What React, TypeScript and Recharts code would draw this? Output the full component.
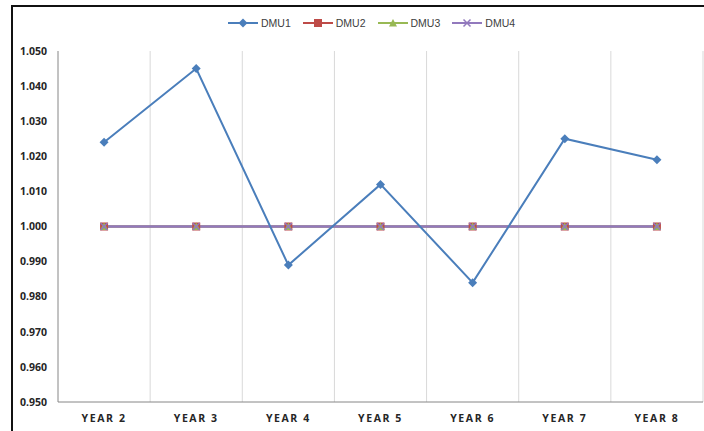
import React from "react";
import { CartesianGrid, Line, LineChart, XAxis, YAxis } from "recharts";

const years = ["YEAR 2", "YEAR 3", "YEAR 4", "YEAR 5", "YEAR 6", "YEAR 7", "YEAR 8"];
const dmu1 = [1.024, 1.045, 0.989, 1.012, 0.984, 1.025, 1.019];
const dmu2 = [1.0, 1.0, 1.0, 1.0, 1.0, 1.0, 1.0];
const dmu3 = [1.0, 1.0, 1.0, 1.0, 1.0, 1.0, 1.0];
const dmu4 = [1.0, 1.0, 1.0, 1.0, 1.0, 1.0, 1.0];
const yTicks = [0.95, 0.96, 0.97, 0.98, 0.99, 1.0, 1.01, 1.02, 1.03, 1.04, 1.05];

const data = years.map((year, i) => ({
  year,
  DMU1: dmu1[i],
  DMU2: dmu2[i],
  DMU3: dmu3[i],
  DMU4: dmu4[i],
}));

type Shape = "diamond" | "square" | "triangle" | "cross";

const series: { key: string; color: string; shape: Shape }[] = [
  { key: "DMU1", color: "#4a7ebb", shape: "diamond" },
  { key: "DMU2", color: "#be4b48", shape: "square" },
  { key: "DMU3", color: "#98b954", shape: "triangle" },
  { key: "DMU4", color: "#9279bd", shape: "cross" },
];

// blue line sits on top of the flat ones where they cross
const drawOrder = ["DMU2", "DMU3", "DMU4", "DMU1"];

const marker = (shape: Shape, color: string, cx: number, cy: number) => {
  if (shape === "diamond") {
    return <path d={`M${cx},${cy - 4.5}L${cx + 4.5},${cy}L${cx},${cy + 4.5}L${cx - 4.5},${cy}Z`} fill={color} />;
  }
  if (shape === "square") {
    return <rect x={cx - 4} y={cy - 4} width={8} height={8} fill={color} />;
  }
  if (shape === "triangle") {
    return <path d={`M${cx},${cy - 4}L${cx + 4},${cy + 3.5}L${cx - 4},${cy + 3.5}Z`} fill={color} />;
  }
  return (
    <path
      d={`M${cx - 3.5},${cy - 3.5}L${cx + 3.5},${cy + 3.5}M${cx + 3.5},${cy - 3.5}L${cx - 3.5},${cy + 3.5}`}
      stroke={color}
      strokeWidth={1.5}
    />
  );
};

const makeDot = (shape: Shape, color: string) => (props: any) => {
  const { cx, cy, index } = props;
  return <g key={`${shape}-${index}`}>{marker(shape, color, cx, cy)}</g>;
};

const ChartLegend = () => (
  <div
    style={{
      position: "absolute",
      left: 228,
      top: 17,
      display: "flex",
      gap: 12,
      fontFamily: "Liberation Sans, Arial, sans-serif",
      fontSize: 10.5,
      color: "#404040",
    }}
  >
    {series.map((s) => (
      <div key={s.key} style={{ display: "flex", alignItems: "center", gap: 3 }}>
        <svg width={30} height={10}>
          <line x1={0} y1={5} x2={30} y2={5} stroke={s.color} strokeWidth={2} />
          {marker(s.shape, s.color, 15, 5)}
        </svg>
        <span>{s.key}</span>
      </div>
    ))}
  </div>
);

const tickStyle = { fontFamily: "Open Sans, Liberation Sans, sans-serif", fontSize: 10.5, fontWeight: 700, fill: "#262626" };

export default function App() {
  return (
    <div style={{ position: "absolute", left: 0, top: 0, width: 704, height: 431, overflow: "hidden", background: "#fff" }}>
      <div style={{ position: "absolute", left: 11, top: 5, width: 720, height: 460, border: "2px solid #111", boxSizing: "border-box" }} />
      <div style={{ position: "absolute", left: 0, top: 0 }}>
        <LineChart width={704} height={431} data={data} margin={{ top: 51, right: 1, bottom: 0, left: 0 }}>
          <CartesianGrid
            horizontal={false}
            stroke="#d9d9d9"
            verticalCoordinatesGenerator={({ offset }: any) =>
              years.map((_, i) => offset.left + ((i + 1) * offset.width) / years.length)
            }
          />
          <XAxis
            dataKey="year"
            scale="band"
            height={29}
            stroke="#868686"
            tickLine={false}
            tickSize={0}
            tickMargin={13}
            tick={{ ...tickStyle, letterSpacing: 1.6 }}
            interval={0}
          />
          <YAxis
            domain={[0.95, 1.05]}
            ticks={yTicks}
            width={58}
            stroke="#868686"
            tickLine={false}
            tickSize={0}
            tickMargin={11}
            tick={tickStyle}
            tickFormatter={(v: number) => v.toFixed(3)}
            interval={0}
          />
          {drawOrder.map((key) => {
            const s = series.find((x) => x.key === key)!;
            return (
              <Line
                key={s.key}
                dataKey={s.key}
                stroke={s.color}
                strokeWidth={s.key === "DMU4" ? 2.4 : 2}
                dot={makeDot(s.shape, s.color)}
                activeDot={false}
                isAnimationActive={false}
              />
            );
          })}
        </LineChart>
      </div>
      <ChartLegend />
    </div>
  );
}
